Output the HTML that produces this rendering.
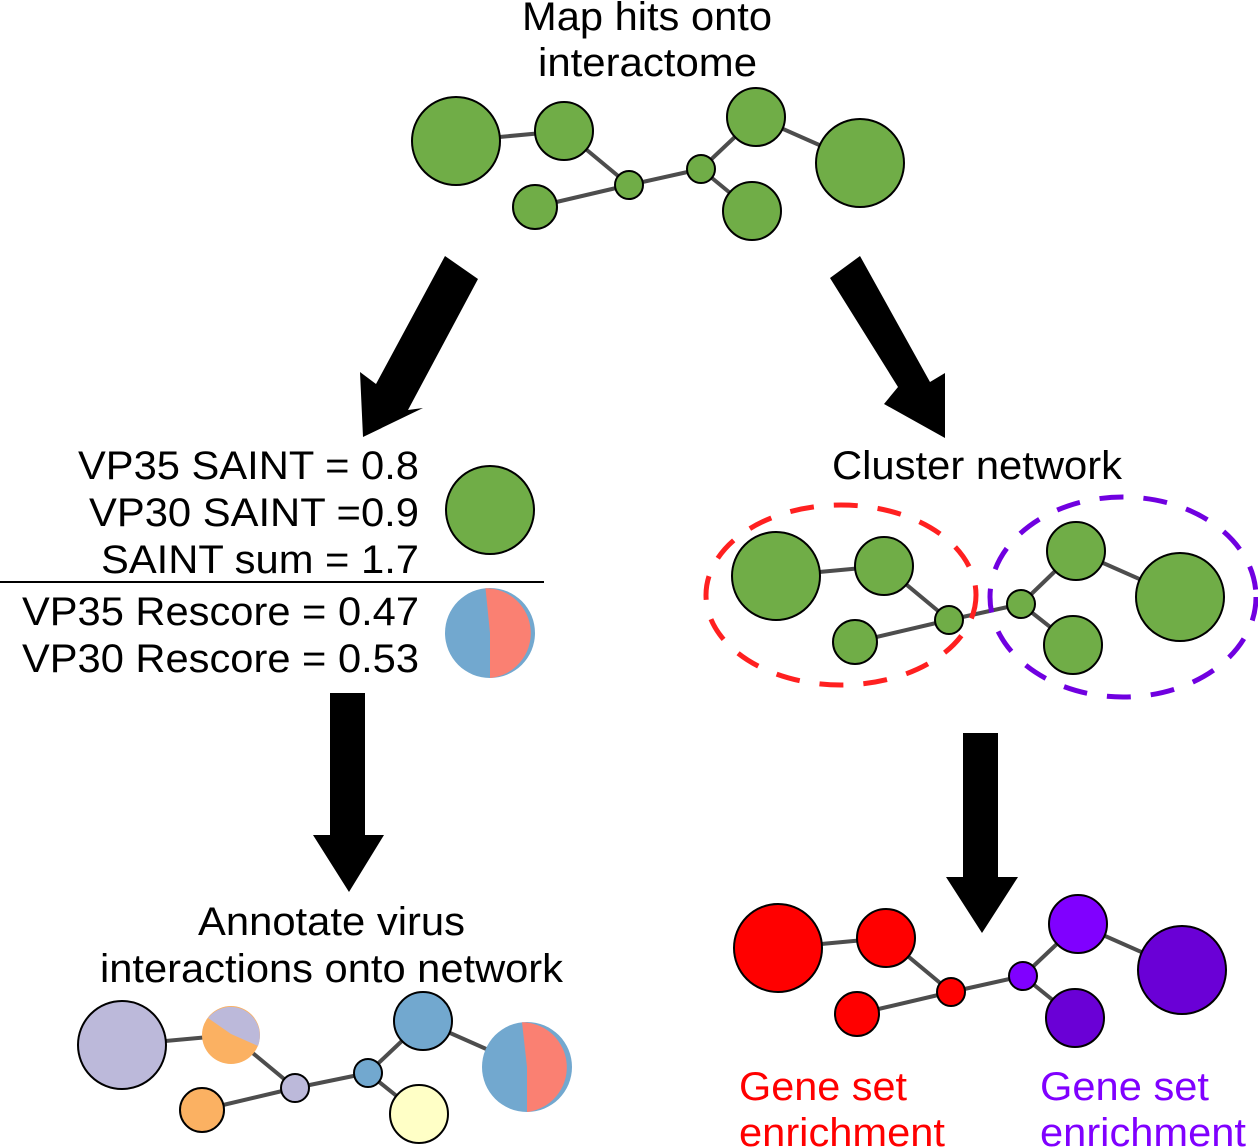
<!DOCTYPE html>
<html><head><meta charset="utf-8"><style>
html,body{margin:0;padding:0;background:#fff}
svg{display:block}
text{font-family:"Liberation Sans",Arial,sans-serif;font-size:40px;fill:#000}
</style></head><body>
<svg width="1258" height="1148" viewBox="0 0 1258 1148" xmlns="http://www.w3.org/2000/svg">
<g stroke="#4d4d4d" stroke-width="4" fill="none">
<line x1="456" y1="141" x2="564" y2="131"/><line x1="564" y1="131" x2="629" y2="185"/>
<line x1="535" y1="207" x2="629" y2="185"/><line x1="629" y1="185" x2="701" y2="169"/>
<line x1="701" y1="169" x2="756" y2="117"/><line x1="701" y1="169" x2="752" y2="211"/>
<line x1="756" y1="117" x2="860" y2="163"/>
<line x1="776" y1="576" x2="884" y2="566"/><line x1="884" y1="566" x2="949" y2="620"/>
<line x1="855" y1="642" x2="949" y2="620"/><line x1="949" y1="620" x2="1021" y2="604"/>
<line x1="1021" y1="604" x2="1076" y2="551"/><line x1="1021" y1="604" x2="1073" y2="645"/>
<line x1="1076" y1="551" x2="1180" y2="597"/>
<line x1="778" y1="948" x2="886" y2="938"/><line x1="886" y1="938" x2="951" y2="992"/>
<line x1="857" y1="1014" x2="951" y2="992"/><line x1="951" y1="992" x2="1023" y2="976"/>
<line x1="1023" y1="976" x2="1078" y2="924"/><line x1="1023" y1="976" x2="1075" y2="1018"/>
<line x1="1078" y1="924" x2="1182" y2="970"/>
<line x1="122" y1="1045" x2="231" y2="1035"/><line x1="231" y1="1035" x2="295" y2="1088"/>
<line x1="202" y1="1110" x2="295" y2="1088"/><line x1="295" y1="1088" x2="368" y2="1073"/>
<line x1="368" y1="1073" x2="423" y2="1021"/><line x1="368" y1="1073" x2="419" y2="1114"/>
<line x1="423" y1="1021" x2="527" y2="1067"/>
</g>
<g stroke="#000" stroke-width="2" fill="#70ad47">
<circle cx="456" cy="141" r="44"/><circle cx="564" cy="131" r="29"/><circle cx="535" cy="207" r="22"/>
<circle cx="629" cy="185" r="14"/><circle cx="701" cy="169" r="14"/><circle cx="756" cy="117" r="29"/>
<circle cx="752" cy="211" r="29"/><circle cx="860" cy="163" r="44"/>
<circle cx="490" cy="510" r="44"/>
<circle cx="776" cy="576" r="44"/><circle cx="884" cy="566" r="29"/><circle cx="855" cy="642" r="22"/>
<circle cx="949" cy="620" r="14"/><circle cx="1021" cy="604" r="14"/><circle cx="1076" cy="551" r="29"/>
<circle cx="1073" cy="645" r="29"/><circle cx="1180" cy="597" r="44"/>
</g>
<g stroke="#000" stroke-width="2">
<circle cx="778" cy="948" r="44" fill="#f00"/><circle cx="886" cy="938" r="29" fill="#f00"/>
<circle cx="857" cy="1014" r="22" fill="#f00"/><circle cx="951" cy="992" r="14" fill="#f00"/>
<circle cx="1023" cy="976" r="14" fill="#8000ff"/><circle cx="1078" cy="924" r="29" fill="#8000ff"/>
<circle cx="1075" cy="1018" r="29" fill="#6a00d6"/><circle cx="1182" cy="970" r="44" fill="#6a00d6"/>
<circle cx="122" cy="1045" r="44" fill="#bcb9da"/>
<circle cx="202" cy="1110" r="22" fill="#fbb162"/>
<circle cx="295" cy="1088" r="14" fill="#bcb9da"/>
<circle cx="368" cy="1073" r="14" fill="#72a8cf"/>
<circle cx="423" cy="1021" r="29" fill="#72a8cf"/>
<circle cx="419" cy="1114" r="29" fill="#ffffc6"/>
</g>
<circle cx="231" cy="1035" r="29" fill="#fbb162"/>
<path d="M208,1018 L231,1034 L258,1046 A29,29 0 0 0 208,1018 Z" fill="#bcb9da"/>
<circle cx="490" cy="633" r="45" fill="#72a8cf"/>
<path d="M490,633 L485.5,588.2 A45,45 0 0 1 490,678 Z" fill="#fa8072"/>
<circle cx="527" cy="1067" r="45" fill="#72a8cf"/>
<path d="M527,1067 L522,1022.3 A45,45 0 0 1 527,1112 Z" fill="#fa8072"/>
<ellipse cx="841" cy="595" rx="135" ry="90" fill="none" stroke="#ff2020" stroke-width="5" stroke-dasharray="24,20"/>
<ellipse cx="1123" cy="597" rx="133" ry="100" fill="none" stroke="#7000e0" stroke-width="5" stroke-dasharray="24,20"/>
<polygon fill="#000" points="445,256 478,279 408,410 423,408 363,437 360,372 376,384"/>
<polygon fill="#000" points="860,256 830,278 898,387 884,404 945,438 945,373 930,382"/>
<polygon fill="#000" points="330,693 365,693 365,835 384,835 349,892 313,835 330,835"/>
<polygon fill="#000" points="963,733 998,733 998,877 1018,877 982,933 946,877 963,877"/>
<line x1="0" y1="582" x2="544" y2="582" stroke="#000" stroke-width="2"/>
<g>
<text x="522" y="30" textLength="250" lengthAdjust="spacingAndGlyphs">Map hits onto</text>
<text x="538" y="76" textLength="219" lengthAdjust="spacingAndGlyphs">interactome</text>
<text x="78" y="479" textLength="341" lengthAdjust="spacingAndGlyphs">VP35 SAINT = 0.8</text>
<text x="89" y="526" textLength="330" lengthAdjust="spacingAndGlyphs">VP30 SAINT =0.9</text>
<text x="101" y="573" textLength="318" lengthAdjust="spacingAndGlyphs">SAINT sum = 1.7</text>
<text x="22" y="625" textLength="397" lengthAdjust="spacingAndGlyphs">VP35 Rescore = 0.47</text>
<text x="22" y="672" textLength="397" lengthAdjust="spacingAndGlyphs">VP30 Rescore = 0.53</text>
<text x="832" y="479" textLength="290" lengthAdjust="spacingAndGlyphs">Cluster network</text>
<text x="198" y="935" textLength="267" lengthAdjust="spacingAndGlyphs">Annotate virus</text>
<text x="100" y="982" textLength="463" lengthAdjust="spacingAndGlyphs">interactions onto network</text>
<text x="739" y="1100" textLength="168" lengthAdjust="spacingAndGlyphs" style="fill:#f00">Gene set</text>
<text x="739" y="1146" textLength="206" lengthAdjust="spacingAndGlyphs" style="fill:#f00">enrichment</text>
<text x="1040" y="1100" textLength="169" lengthAdjust="spacingAndGlyphs" style="fill:#8000ff">Gene set</text>
<text x="1040" y="1146" textLength="206" lengthAdjust="spacingAndGlyphs" style="fill:#8000ff">enrichment</text>
</g>
</svg>
</body></html>
